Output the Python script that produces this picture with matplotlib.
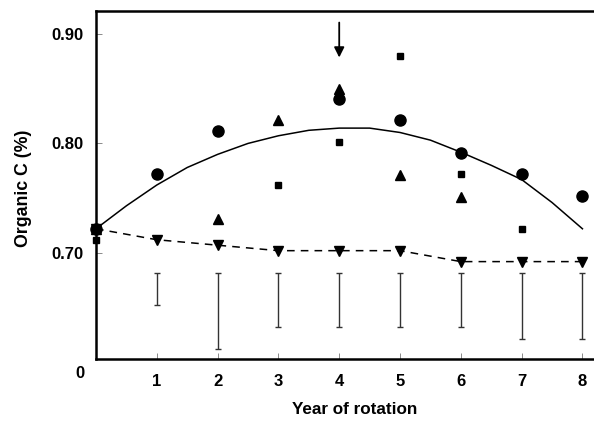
import matplotlib.pyplot as plt
import numpy as np

plt.rcParams['font.family'] = ['Liberation Sans', 'DejaVu Sans']
plt.rcParams['font.weight'] = 'bold'

# Organic C (%) by year of rotation, one list per symbol
years = [0, 1, 2, 3, 4, 5, 6, 7, 8]
circle_x = [0, 1, 2, 4, 5, 6, 7, 8]
circle_y = [0.722, 0.772, 0.811, 0.841, 0.821, 0.791, 0.772, 0.752]
square_x = [0, 3, 4, 5, 6, 7]
square_y = [0.712, 0.762, 0.801, 0.880, 0.772, 0.722]
tri_up_x = [0, 2, 3, 4, 5, 6]
tri_up_y = [0.722, 0.731, 0.821, 0.850, 0.771, 0.751]
tri_down_y = [0.722, 0.712, 0.707, 0.702, 0.702, 0.702, 0.692, 0.692, 0.692]

# fitted curve
fit_x = [0, 0.5, 1, 1.5, 2, 2.5, 3, 3.5, 4, 4.5, 5, 5.5, 6, 6.5, 7, 7.5, 8]
fit_y = [0.722, 0.743, 0.762, 0.778, 0.790, 0.800, 0.807, 0.812, 0.814,
         0.814, 0.810, 0.803, 0.792, 0.780, 0.767, 0.746, 0.722]

# LSD bars
bar_x = [1, 2, 3, 4, 5, 6, 7, 8]
bar_low = [0.652, 0.612, 0.632, 0.632, 0.632, 0.632, 0.621, 0.621]
bar_high = [0.682, 0.682, 0.682, 0.682, 0.682, 0.682, 0.682, 0.682]

fig = plt.figure(figsize=(5.94, 4.24), dpi=100)
ax = fig.add_axes([0.1616, 0.1533, 0.8384, 0.8207])

ax.plot(fit_x, fit_y, color='black', lw=1.1)
ax.plot(years, tri_down_y, color='black', lw=1.1, ls=(0, (5, 4)))

ax.plot(circle_x, circle_y, 'o', color='black', ms=8, clip_on=False)
ax.plot(square_x, square_y, 's', color='black', ms=4.5, clip_on=False)
ax.plot(tri_up_x, tri_up_y, '^', color='black', ms=7, clip_on=False)
ax.plot(years, tri_down_y, 'v', color='black', ms=7, clip_on=False)

ax.vlines(bar_x, bar_low, bar_high, color='#333333', lw=1)
ax.plot(bar_x, bar_low, '_', color='#333333', ms=4, mew=1)
ax.plot(bar_x, bar_high, '_', color='#333333', ms=4, mew=1)

# arrow marking year 4
ax.annotate('', xy=(4, 0.876), xytext=(4, 0.913),
            arrowprops=dict(arrowstyle='-|>', color='black', lw=1.3,
                            mutation_scale=15))

ax.set_xlim(0, 8.19)
ax.set_ylim(0.603, 0.921)
ax.set_xticks(bar_x)
ax.set_yticks([0.70, 0.80, 0.90])
ax.set_yticklabels(['0.70', '0.80', '0.90'])
ax.tick_params(direction='in', length=4, width=0.6, color='#777777',
               labelsize=12, pad=9)
ax.tick_params(axis='x', pad=11)

ax.spines['right'].set_visible(False)
for s in ['left', 'bottom', 'top']:
    ax.spines[s].set_linewidth(1.8)

ax.text(-0.26, 0.590, '0', ha='center', va='center', fontsize=12,
        fontweight='bold', clip_on=False)

ax.set_xlabel('Year of rotation', fontsize=12.3, fontweight='bold')
ax.set_ylabel('Organic C (%)', fontsize=12.8, fontweight='bold')
ax.xaxis.set_label_coords(0.52, -0.125)
ax.yaxis.set_label_coords(-0.128, 0.49)

plt.savefig('out.png', dpi=100)
